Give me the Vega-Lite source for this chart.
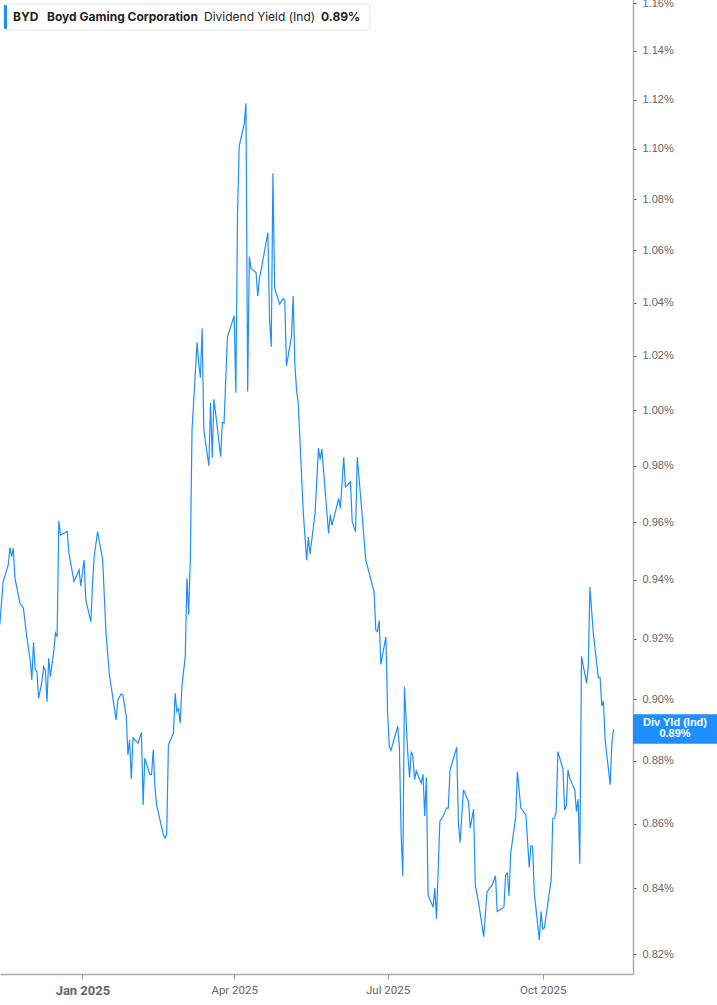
{
  "$schema": "https://vega.github.io/schema/vega-lite/v6.json",
  "width": 633,
  "height": 974,
  "autosize": {"type": "none"},
  "padding": {"left": 0, "top": 0, "right": 84, "bottom": 31},
  "background": "white",
  "config": {"view": {"stroke": null}, "font": "Liberation Sans"},
  "datasets": {
    "byd": [
      {"d": "2024-11-13", "v": 0.9247}, {"d": "2024-11-15", "v": 0.9394}, {"d": "2024-11-18", "v": 0.9451},
      {"d": "2024-11-19", "v": 0.9511}, {"d": "2024-11-20", "v": 0.9480}, {"d": "2024-11-21", "v": 0.9509},
      {"d": "2024-11-22", "v": 0.9405}, {"d": "2024-11-25", "v": 0.9320}, {"d": "2024-11-27", "v": 0.9303},
      {"d": "2024-11-29", "v": 0.9207}, {"d": "2024-12-01", "v": 0.9130}, {"d": "2024-12-02", "v": 0.9063},
      {"d": "2024-12-03", "v": 0.9188}, {"d": "2024-12-04", "v": 0.9096}, {"d": "2024-12-05", "v": 0.9091},
      {"d": "2024-12-06", "v": 0.9002}, {"d": "2024-12-08", "v": 0.9057}, {"d": "2024-12-09", "v": 0.9107},
      {"d": "2024-12-10", "v": 0.9096}, {"d": "2024-12-11", "v": 0.8991}, {"d": "2024-12-12", "v": 0.9135},
      {"d": "2024-12-13", "v": 0.9074}, {"d": "2024-12-15", "v": 0.9157}, {"d": "2024-12-16", "v": 0.9219},
      {"d": "2024-12-17", "v": 0.9207}, {"d": "2024-12-18", "v": 0.9604}, {"d": "2024-12-19", "v": 0.9555},
      {"d": "2024-12-21", "v": 0.9561}, {"d": "2024-12-23", "v": 0.9567}, {"d": "2024-12-24", "v": 0.9492},
      {"d": "2024-12-27", "v": 0.9394}, {"d": "2024-12-30", "v": 0.9434}, {"d": "2024-12-31", "v": 0.9379},
      {"d": "2025-01-02", "v": 0.9469}, {"d": "2025-01-03", "v": 0.9332}, {"d": "2025-01-06", "v": 0.9258},
      {"d": "2025-01-07", "v": 0.9388}, {"d": "2025-01-08", "v": 0.9480}, {"d": "2025-01-10", "v": 0.9567},
      {"d": "2025-01-13", "v": 0.9469}, {"d": "2025-01-15", "v": 0.9219}, {"d": "2025-01-17", "v": 0.9080},
      {"d": "2025-01-21", "v": 0.8932}, {"d": "2025-01-22", "v": 0.8997}, {"d": "2025-01-24", "v": 0.9017},
      {"d": "2025-01-25", "v": 0.9013}, {"d": "2025-01-27", "v": 0.8943}, {"d": "2025-01-28", "v": 0.8818},
      {"d": "2025-01-29", "v": 0.8867}, {"d": "2025-01-30", "v": 0.8741}, {"d": "2025-01-31", "v": 0.8873},
      {"d": "2025-02-03", "v": 0.8856}, {"d": "2025-02-05", "v": 0.8891}, {"d": "2025-02-06", "v": 0.8659},
      {"d": "2025-02-07", "v": 0.8808}, {"d": "2025-02-10", "v": 0.8755}, {"d": "2025-02-11", "v": 0.8755},
      {"d": "2025-02-12", "v": 0.8835}, {"d": "2025-02-13", "v": 0.8717}, {"d": "2025-02-14", "v": 0.8659},
      {"d": "2025-02-18", "v": 0.8565}, {"d": "2025-02-19", "v": 0.8555}, {"d": "2025-02-20", "v": 0.8565},
      {"d": "2025-02-21", "v": 0.8851}, {"d": "2025-02-24", "v": 0.8889}, {"d": "2025-02-25", "v": 0.9019},
      {"d": "2025-02-26", "v": 0.8959}, {"d": "2025-02-27", "v": 0.8968}, {"d": "2025-02-28", "v": 0.8921},
      {"d": "2025-03-01", "v": 0.9041}, {"d": "2025-03-03", "v": 0.9141}, {"d": "2025-03-04", "v": 0.9405},
      {"d": "2025-03-05", "v": 0.9281}, {"d": "2025-03-06", "v": 0.9469}, {"d": "2025-03-07", "v": 0.9928},
      {"d": "2025-03-10", "v": 1.0251}, {"d": "2025-03-11", "v": 1.0172}, {"d": "2025-03-12", "v": 1.0119},
      {"d": "2025-03-13", "v": 1.0303}, {"d": "2025-03-14", "v": 0.9928}, {"d": "2025-03-17", "v": 0.9799},
      {"d": "2025-03-18", "v": 1.0028}, {"d": "2025-03-19", "v": 0.9828}, {"d": "2025-03-20", "v": 1.0040},
      {"d": "2025-03-21", "v": 0.9989}, {"d": "2025-03-24", "v": 0.9832}, {"d": "2025-03-25", "v": 0.9955},
      {"d": "2025-03-26", "v": 0.9953}, {"d": "2025-03-28", "v": 1.0270}, {"d": "2025-04-01", "v": 1.0350},
      {"d": "2025-04-02", "v": 1.0064}, {"d": "2025-04-03", "v": 1.0745}, {"d": "2025-04-04", "v": 1.1011},
      {"d": "2025-04-07", "v": 1.1103}, {"d": "2025-04-08", "v": 1.1184}, {"d": "2025-04-09", "v": 1.0068},
      {"d": "2025-04-10", "v": 1.0576}, {"d": "2025-04-11", "v": 1.0531}, {"d": "2025-04-14", "v": 1.0515},
      {"d": "2025-04-15", "v": 1.0425}, {"d": "2025-04-16", "v": 1.0493}, {"d": "2025-04-17", "v": 1.0525},
      {"d": "2025-04-21", "v": 1.0669}, {"d": "2025-04-22", "v": 1.0335}, {"d": "2025-04-23", "v": 1.0234},
      {"d": "2025-04-24", "v": 1.0903}, {"d": "2025-04-25", "v": 1.0455}, {"d": "2025-04-28", "v": 1.0395},
      {"d": "2025-04-30", "v": 1.0416}, {"d": "2025-05-01", "v": 1.0410}, {"d": "2025-05-02", "v": 1.0163},
      {"d": "2025-05-05", "v": 1.0272}, {"d": "2025-05-06", "v": 1.0425}, {"d": "2025-05-07", "v": 1.0172},
      {"d": "2025-05-08", "v": 1.0074}, {"d": "2025-05-09", "v": 1.0025}, {"d": "2025-05-12", "v": 0.9632},
      {"d": "2025-05-14", "v": 0.9467}, {"d": "2025-05-15", "v": 0.9548}, {"d": "2025-05-16", "v": 0.9488},
      {"d": "2025-05-19", "v": 0.9632}, {"d": "2025-05-21", "v": 0.9863}, {"d": "2025-05-22", "v": 0.9821},
      {"d": "2025-05-23", "v": 0.9859}, {"d": "2025-05-27", "v": 0.9560}, {"d": "2025-05-28", "v": 0.9626},
      {"d": "2025-05-29", "v": 0.9588}, {"d": "2025-06-02", "v": 0.9683}, {"d": "2025-06-03", "v": 0.9648},
      {"d": "2025-06-05", "v": 0.9830}, {"d": "2025-06-06", "v": 0.9724}, {"d": "2025-06-09", "v": 0.9742},
      {"d": "2025-06-10", "v": 0.9602}, {"d": "2025-06-12", "v": 0.9566}, {"d": "2025-06-13", "v": 0.9830},
      {"d": "2025-06-16", "v": 0.9620}, {"d": "2025-06-18", "v": 0.9470}, {"d": "2025-06-23", "v": 0.9358},
      {"d": "2025-06-24", "v": 0.9229}, {"d": "2025-06-25", "v": 0.9224}, {"d": "2025-06-26", "v": 0.9261},
      {"d": "2025-06-27", "v": 0.9115}, {"d": "2025-06-30", "v": 0.9206}, {"d": "2025-07-01", "v": 0.8956},
      {"d": "2025-07-02", "v": 0.8844}, {"d": "2025-07-03", "v": 0.8833}, {"d": "2025-07-07", "v": 0.8911},
      {"d": "2025-07-08", "v": 0.8844}, {"d": "2025-07-09", "v": 0.8571}, {"d": "2025-07-10", "v": 0.8437},
      {"d": "2025-07-11", "v": 0.9040}, {"d": "2025-07-13", "v": 0.8822}, {"d": "2025-07-14", "v": 0.8745},
      {"d": "2025-07-15", "v": 0.8827}, {"d": "2025-07-16", "v": 0.8816}, {"d": "2025-07-17", "v": 0.8739},
      {"d": "2025-07-18", "v": 0.8767}, {"d": "2025-07-21", "v": 0.8728}, {"d": "2025-07-22", "v": 0.8756},
      {"d": "2025-07-23", "v": 0.8624}, {"d": "2025-07-24", "v": 0.8747}, {"d": "2025-07-25", "v": 0.8379},
      {"d": "2025-07-28", "v": 0.8342}, {"d": "2025-07-29", "v": 0.8400}, {"d": "2025-07-30", "v": 0.8306},
      {"d": "2025-08-01", "v": 0.8608}, {"d": "2025-08-03", "v": 0.8624}, {"d": "2025-08-05", "v": 0.8649},
      {"d": "2025-08-06", "v": 0.8649}, {"d": "2025-08-07", "v": 0.8769}, {"d": "2025-08-11", "v": 0.8843},
      {"d": "2025-08-12", "v": 0.8601}, {"d": "2025-08-13", "v": 0.8541}, {"d": "2025-08-15", "v": 0.8707},
      {"d": "2025-08-18", "v": 0.8670}, {"d": "2025-08-19", "v": 0.8586}, {"d": "2025-08-21", "v": 0.8646},
      {"d": "2025-08-22", "v": 0.8410}, {"d": "2025-08-24", "v": 0.8354}, {"d": "2025-08-27", "v": 0.8253},
      {"d": "2025-08-29", "v": 0.8389}, {"d": "2025-09-01", "v": 0.8410}, {"d": "2025-09-03", "v": 0.8438},
      {"d": "2025-09-04", "v": 0.8329}, {"d": "2025-09-08", "v": 0.8342}, {"d": "2025-09-09", "v": 0.8441},
      {"d": "2025-09-10", "v": 0.8446}, {"d": "2025-09-11", "v": 0.8376}, {"d": "2025-09-12", "v": 0.8508},
      {"d": "2025-09-15", "v": 0.8622}, {"d": "2025-09-16", "v": 0.8765}, {"d": "2025-09-18", "v": 0.8649},
      {"d": "2025-09-21", "v": 0.8628}, {"d": "2025-09-23", "v": 0.8464}, {"d": "2025-09-24", "v": 0.8531},
      {"d": "2025-09-25", "v": 0.8529}, {"d": "2025-09-26", "v": 0.8385}, {"d": "2025-09-29", "v": 0.8243},
      {"d": "2025-09-30", "v": 0.8329}, {"d": "2025-10-01", "v": 0.8276}, {"d": "2025-10-02", "v": 0.8279},
      {"d": "2025-10-06", "v": 0.8425}, {"d": "2025-10-07", "v": 0.8617}, {"d": "2025-10-08", "v": 0.8617},
      {"d": "2025-10-09", "v": 0.8638}, {"d": "2025-10-10", "v": 0.8829}, {"d": "2025-10-13", "v": 0.8773},
      {"d": "2025-10-14", "v": 0.8643}, {"d": "2025-10-15", "v": 0.8656}, {"d": "2025-10-16", "v": 0.8770},
      {"d": "2025-10-17", "v": 0.8744}, {"d": "2025-10-20", "v": 0.8707}, {"d": "2025-10-21", "v": 0.8638},
      {"d": "2025-10-22", "v": 0.8677}, {"d": "2025-10-23", "v": 0.8475}, {"d": "2025-10-24", "v": 0.9141},
      {"d": "2025-10-27", "v": 0.9052}, {"d": "2025-10-28", "v": 0.9107}, {"d": "2025-10-29", "v": 0.9375},
      {"d": "2025-10-31", "v": 0.9219}, {"d": "2025-11-02", "v": 0.9119}, {"d": "2025-11-03", "v": 0.9071},
      {"d": "2025-11-04", "v": 0.9072}, {"d": "2025-11-05", "v": 0.8977}, {"d": "2025-11-06", "v": 0.8994},
      {"d": "2025-11-07", "v": 0.8867}, {"d": "2025-11-10", "v": 0.8723}, {"d": "2025-11-11", "v": 0.8856},
      {"d": "2025-11-12", "v": 0.8902}
    ]
  },
  "layer": [
    {
      "data": {"name": "byd"},
      "mark": {"type": "line", "color": "#1f8fff", "strokeWidth": 1.2, "clip": true},
      "encoding": {
        "x": {
          "field": "d", "type": "temporal",
          "scale": {"type": "utc", "domain": [
            {"year": 2024, "month": 11, "date": 13, "hours": 3, "utc": true},
            {"year": 2025, "month": 11, "date": 23, "hours": 13, "utc": true}
          ]},
          "axis": {
            "title": null, "grid": false,
            "values": [
              {"year": 2025, "month": 1, "date": 1, "utc": true},
              {"year": 2025, "month": 4, "date": 1, "utc": true},
              {"year": 2025, "month": 7, "date": 1, "utc": true},
              {"year": 2025, "month": 10, "date": 1, "utc": true}
            ],
            "labelExpr": "utcFormat(datum.value, '%b %Y')",
            "domainColor": "#aaaaaa", "domainWidth": 1.5,
            "tickColor": "#999999", "tickSize": 5, "tickWidth": 1,
            "labelColor": "#666666", "labelFont": "Liberation Sans Narrow, Roboto",
            "labelFontSize": {"condition": {"test": "utcmonth(datum.value) == 0", "value": 13}, "value": 11.5},
            "labelFontWeight": {"condition": {"test": "utcmonth(datum.value) == 0", "value": "bold"}, "value": "normal"},
            "labelPadding": 5, "labelOverlap": false, "labelFlush": false, "labelBound": false
          }
        },
        "y": {
          "field": "v", "type": "quantitative",
          "scale": {"type": "log", "domain": [0.8141, 1.1614], "nice": false},
          "axis": {
            "orient": "right", "title": null, "grid": false,
            "values": [0.82, 0.84, 0.86, 0.88, 0.9, 0.92, 0.94, 0.96, 0.98, 1.0, 1.02, 1.04, 1.06, 1.08, 1.1, 1.12, 1.14, 1.16],
            "labelExpr": "format(datum.value, '.2f') + '%'",
            "domainColor": "#aaaaaa", "domainWidth": 1.5,
            "tickColor": "#555555", "tickSize": 3, "tickWidth": 1,
            "labelColor": "#666666", "labelFont": "Liberation Sans", "labelFontSize": 11,
            "labelPadding": 6, "labelOverlap": false, "labelFlush": false, "labelBound": false
          }
        }
      }
    },
    {
      "data": {"values": [{}]},
      "mark": {"type": "rect", "fill": "white", "stroke": "#e4e4e4", "strokeWidth": 1, "cornerRadius": 3},
      "encoding": {"x": {"value": 4}, "x2": {"value": 370}, "y": {"value": 4}, "y2": {"value": 30}}
    },
    {
      "data": {"values": [{}]},
      "mark": {"type": "rect", "fill": "#1f8fff", "cornerRadius": 1},
      "encoding": {"x": {"value": 4}, "x2": {"value": 7}, "y": {"value": 5}, "y2": {"value": 29}}
    },
    {
      "data": {"values": [{}]},
      "mark": {"type": "text", "text": "BYD", "font": "Inter", "fontSize": 12, "fontWeight": "bold", "color": "#222222", "align": "left", "baseline": "middle"},
      "encoding": {"x": {"value": 13}, "y": {"value": 17}}
    },
    {
      "data": {"values": [{}]},
      "mark": {"type": "text", "text": "Boyd Gaming Corporation", "font": "Inter", "fontSize": 12, "fontWeight": "bold", "color": "#222222", "align": "left", "baseline": "middle"},
      "encoding": {"x": {"value": 47}, "y": {"value": 17}}
    },
    {
      "data": {"values": [{}]},
      "mark": {"type": "text", "text": "Dividend Yield (Ind)", "font": "Inter", "fontSize": 12, "fontWeight": "normal", "color": "#222222", "align": "left", "baseline": "middle"},
      "encoding": {"x": {"value": 204}, "y": {"value": 17}}
    },
    {
      "data": {"values": [{}]},
      "mark": {"type": "text", "text": "0.89%", "font": "Inter", "fontSize": 12, "fontWeight": "bold", "color": "#222222", "align": "left", "baseline": "middle"},
      "encoding": {"x": {"value": 321}, "y": {"value": 17}}
    },
    {
      "data": {"values": [{}]},
      "mark": {"type": "rect", "fill": "#1f8fff", "yOffset": -15.5, "y2Offset": 14},
      "encoding": {"x": {"value": 633}, "x2": {"value": 717}, "y": {"datum": 0.89, "type": "quantitative"}, "y2": {"datum": 0.89}}
    },
    {
      "data": {"values": [{}]},
      "mark": {"type": "text", "text": "Div Yld (Ind)", "font": "Liberation Sans", "fontSize": 11, "fontWeight": "bold", "color": "white", "align": "center", "baseline": "middle", "dy": -6.5},
      "encoding": {"x": {"value": 675}, "y": {"datum": 0.89, "type": "quantitative"}}
    },
    {
      "data": {"values": [{}]},
      "mark": {"type": "text", "text": "0.89%", "font": "Liberation Sans", "fontSize": 11, "fontWeight": "bold", "color": "white", "align": "center", "baseline": "middle", "dy": 4.5},
      "encoding": {"x": {"value": 675}, "y": {"datum": 0.89, "type": "quantitative"}}
    }
  ]
}
